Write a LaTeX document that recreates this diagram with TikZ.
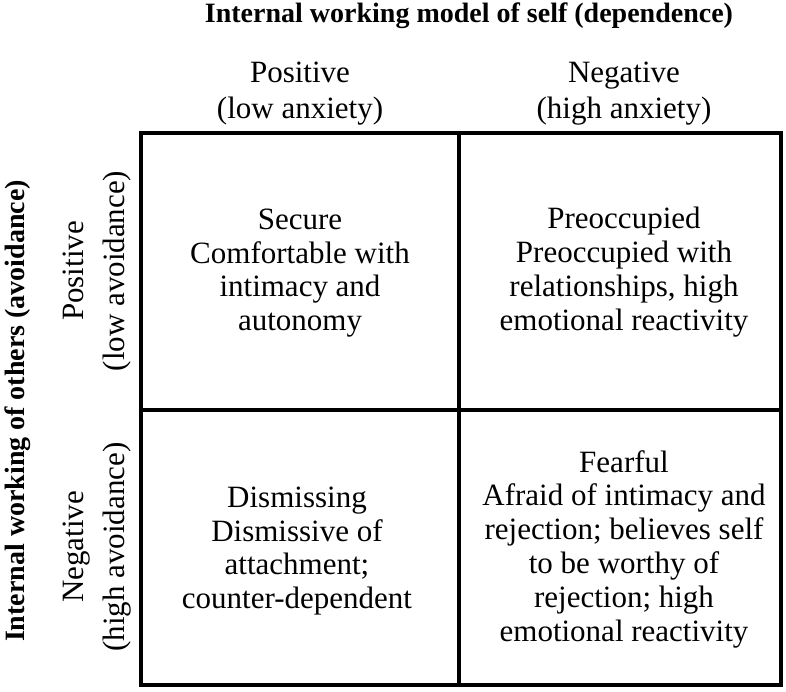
\documentclass[tikz,border=0pt]{standalone}
\usepackage{fontspec}
\setmainfont{Liberation Serif}
\begin{document}
\begin{tikzpicture}[x=1pt,y=-1pt,
  cell/.style={align=center, inner sep=0pt, font=\fontsize{31}{33.8}\selectfont},
  lbl/.style={inner sep=0pt, anchor=base, font=\fontsize{31}{33.8}\selectfont},
  ttl/.style={inner sep=0pt, anchor=base, font=\fontsize{28}{32}\selectfont\bfseries},
  gridline/.style={line width=3.2pt}]
\useasboundingbox[fill=white] (0,0) rectangle (786,691);
% grid corners and midpoints
\coordinate (nw) at (141,133);
\coordinate (se) at (781,685);
\coordinate (mt) at (459,133);
\coordinate (mb) at (459,685);
\coordinate (ml) at (141,410);
\coordinate (mr) at (781,410);
\draw[gridline] (nw) rectangle (se);
\draw[gridline] (mt) -- (mb);
\draw[gridline] (ml) -- (mr);
% top titles
\node[ttl] (toptitle) at (469,22) {Internal working model of self (dependence)};
\node[lbl] (pos1) at (300,82) {Positive};
\node[lbl] (pos2) at (300,118) {(low anxiety)};
\node[lbl] (neg1) at (624,82) {Negative};
\node[lbl] (neg2) at (624,118) {(high anxiety)};
% left titles
\node[ttl, rotate=90] (lefttitle) at (24,411) {Internal working of others (avoidance)};
\node[lbl, rotate=90] (lpos1) at (83,271) {Positive};
\node[lbl, rotate=90] (lpos2) at (124,271) {(low avoidance)};
\node[lbl, rotate=90] (lneg1) at (83,547) {Negative};
\node[lbl, rotate=90] (lneg2) at (124,547) {(high avoidance)};
% cells
\node[cell] (secure) at (300,273) {Secure\\Comfortable with\\intimacy and\\autonomy};
\node[cell] (preocc) at (624,272) {Preoccupied\\Preoccupied with\\relationships, high\\emotional reactivity};
\node[cell] (dismiss) at (297,551) {Dismissing\\Dismissive of\\attachment;\\counter-dependent};
\node[cell] (fearful) at (624,549) {Fearful\\Afraid of intimacy and\\rejection; believes self\\to be worthy of\\rejection; high\\emotional reactivity};
\end{tikzpicture}
\end{document}
